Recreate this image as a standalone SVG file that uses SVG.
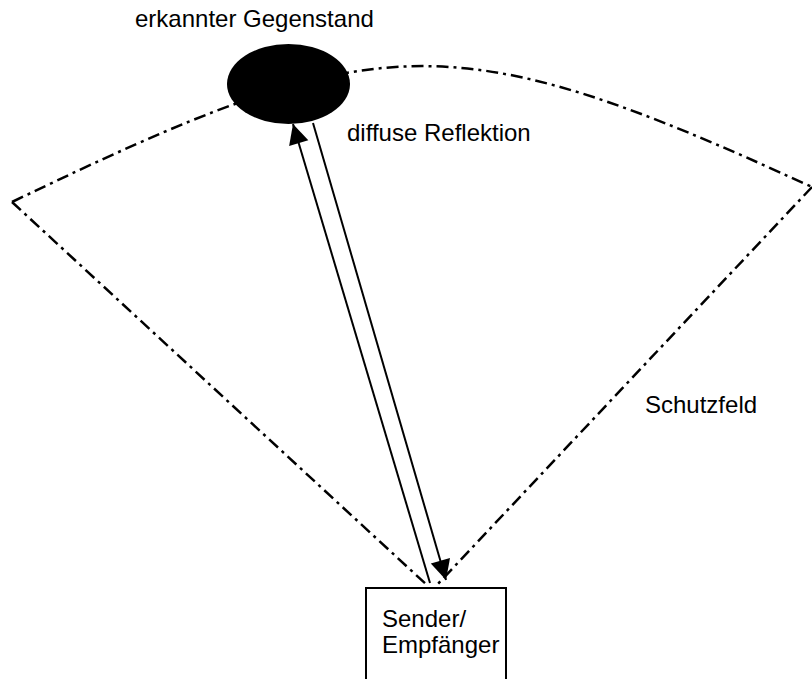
<svg xmlns="http://www.w3.org/2000/svg" width="812" height="679" viewBox="0 0 812 679">
  <style>
    text { font-family: "Liberation Sans", Arial, sans-serif; font-size: 24px; fill: #000; }
    .field { fill: none; stroke: #000; stroke-width: 2.5; stroke-dasharray: 12 5 3 5; }
    .ray { fill: none; stroke: #000; stroke-width: 2; marker-end: url(#head); }
  </style>
  <defs>
    <marker id="head" markerUnits="userSpaceOnUse" markerWidth="24" markerHeight="24" viewBox="-22 -11 24 22" refX="0" refY="0" orient="auto">
      <path d="M0,0 L-20,-10 L-20,10 Z" fill="#000"/>
    </marker>
  </defs>

  <rect width="812" height="679" fill="#fff"/>

  <!-- protective field: dash-dot boundary -->
  <g id="schutzfeld">
    <path class="field" d="M12,202 C376,27 448,20 812,187"/>
    <path class="field" d="M12,202 L428,586"/>
    <path class="field" d="M812,187 L436,586"/>
    <text x="645" y="413">Schutzfeld</text>
  </g>

  <!-- detected object -->
  <g id="gegenstand">
    <ellipse cx="288.5" cy="84" rx="61.5" ry="40" fill="#000"/>
    <text x="135" y="27">erkannter Gegenstand</text>
  </g>

  <!-- emitter / receiver unit -->
  <g id="sender">
    <rect x="366" y="588" width="140" height="100" fill="#fff" stroke="#000" stroke-width="2"/>
    <text x="382" y="627">Sender/</text>
    <text x="382" y="653">Empfänger</text>
  </g>

  <!-- emitted ray and diffuse reflection -->
  <g id="connectors">
    <path class="ray" d="M430,583 L293,124"/>
    <path class="ray" d="M313,123 L446,580"/>
    <text x="347" y="141">diffuse Reflektion</text>
  </g>
</svg>
